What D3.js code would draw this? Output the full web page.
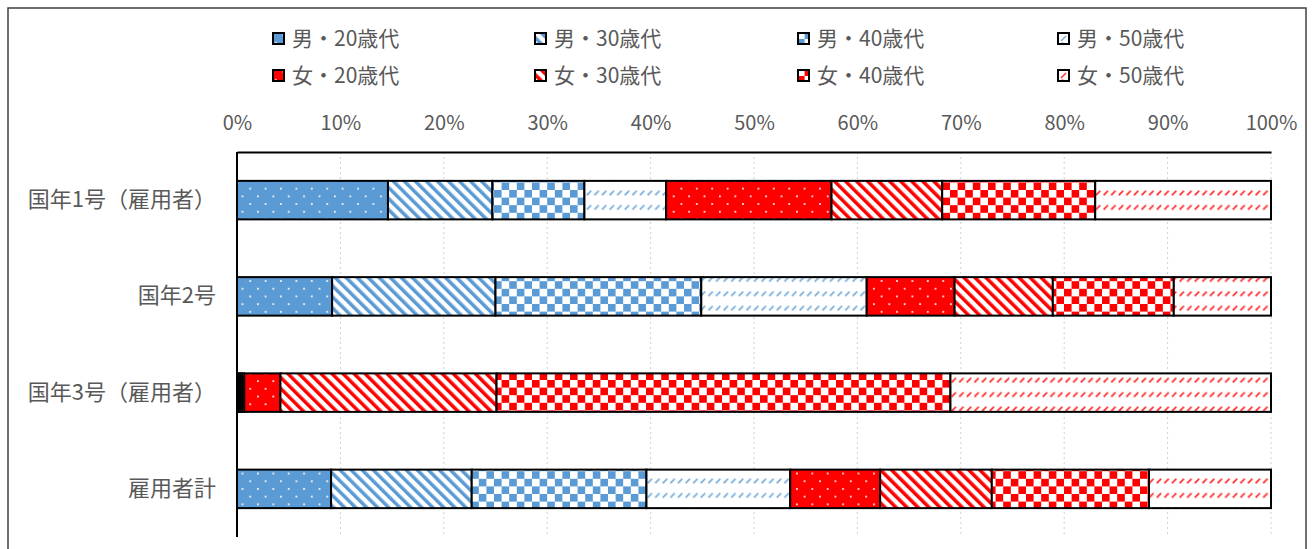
<!DOCTYPE html>
<html>
<head>
<meta charset="utf-8">
<script src="https://cdn.jsdelivr.net/npm/d3@7"></script>
<style>
  html, body { margin: 0; padding: 0; background: #fff; }
  svg { display: block; }
  text { font-family: "Noto Sans CJK JP", "Noto Sans", sans-serif; fill: #595959; }
</style>
</head>
<body>
<svg id="chart" width="1316" height="549"></svg>
<script>
// Categories (top to bottom)
const categories = ["国年1号（雇用者）", "国年2号", "国年3号（雇用者）", "雇用者計"];

// Series names, in stacking order
const seriesNames = ["男・20歳代", "男・30歳代", "男・40歳代", "男・50歳代",
                     "女・20歳代", "女・30歳代", "女・40歳代", "女・50歳代"];

// Shares (%) per category for each series
const male20   = [14.6,  9.2,  0.1,  9.1];
const male30   = [10.1, 15.8,  0.2, 13.6];
const male40   = [ 8.9, 19.9,  0.2, 16.9];
const male50   = [ 7.9, 16.0,  0.2, 13.9];
const female20 = [16.0,  8.5,  3.5,  8.7];
const female30 = [10.7,  9.5, 20.9, 10.8];
const female40 = [14.8, 11.7, 43.9, 15.2];
const female50 = [17.0,  9.4, 31.0, 11.8];

// Axis tick values (%)
const tickValues = [0, 10, 20, 30, 40, 50, 60, 70, 80, 90, 100];

const seriesValues = [male20, male30, male40, male50, female20, female30, female40, female50];

const BLUE = "#5B9BD5";
const RED = "#FF0000";
const seriesColors = [BLUE, BLUE, BLUE, BLUE, RED, RED, RED, RED];
const patternKinds = ["dot", "stripe", "check", "dash", "dot", "stripe", "check", "dash"];

const svg = d3.select("#chart");

// ---- fill patterns ----
const defs = svg.append("defs");

function dotted(id, color) {
  const p = defs.append("pattern").attr("id", id)
    .attr("patternUnits", "userSpaceOnUse").attr("width", 15.4).attr("height", 15.4);
  p.append("rect").attr("width", 15.4).attr("height", 15.4).attr("fill", color);
  p.append("circle").attr("cx", 3.8).attr("cy", 3.8).attr("r", 1).attr("fill", "#fff");
  p.append("circle").attr("cx", 11.5).attr("cy", 11.5).attr("r", 1).attr("fill", "#fff");
}
function striped(id, color) {
  const s = 7.8;
  const p = defs.append("pattern").attr("id", id)
    .attr("patternUnits", "userSpaceOnUse").attr("width", s).attr("height", s)
    .attr("patternTransform", "rotate(-45)");
  p.append("rect").attr("width", s).attr("height", s).attr("fill", "#fff");
  p.append("rect").attr("width", s * 0.45).attr("height", s).attr("fill", color);
}
function checker(id, color) {
  const s = 7.6;
  const p = defs.append("pattern").attr("id", id)
    .attr("patternUnits", "userSpaceOnUse").attr("width", 2 * s).attr("height", 2 * s);
  p.append("rect").attr("width", 2 * s).attr("height", 2 * s).attr("fill", "#fff");
  p.append("rect").attr("width", s).attr("height", s).attr("fill", color);
  p.append("rect").attr("x", s).attr("y", s).attr("width", s).attr("height", s).attr("fill", color);
}
function dashed(id, color) {
  const w = 7.6, h = 14.4;
  const p = defs.append("pattern").attr("id", id)
    .attr("patternUnits", "userSpaceOnUse").attr("width", w).attr("height", h)
    .attr("y", 2);
  p.append("rect").attr("width", w).attr("height", h).attr("fill", "#fff");
  p.append("line").attr("x1", 1.6).attr("y1", 6).attr("x2", 6).attr("y2", 1.6)
    .attr("stroke", color).attr("stroke-width", 1.7).attr("stroke-opacity", 0.8);
}

const makers = { dot: dotted, stripe: striped, check: checker, dash: dashed };
const fills = seriesNames.map((s, i) => {
  const id = "p" + i;
  makers[patternKinds[i]](id, seriesColors[i]);
  return `url(#${id})`;
});

// ---- outer frame ----
svg.append("rect").attr("x", 8).attr("y", 8).attr("width", 1298).attr("height", 560)
  .attr("fill", "none").attr("stroke", "#404040").attr("stroke-width", 1.5);

// ---- scales ----
const plot = { left: 237, right: 1271, top: 152, bottom: 537 };
const x = d3.scaleLinear().domain([0, 100]).range([plot.left, plot.right]);
const y = d3.scaleBand().domain(categories).range([plot.top, plot.bottom])
  .paddingInner(0.6).paddingOuter(0.3);

// ---- gridlines ----
svg.append("g").selectAll("line").data(tickValues.filter(v => v > 0)).join("line")
  .attr("x1", d => x(d)).attr("x2", d => x(d))
  .attr("y1", plot.top).attr("y2", plot.bottom)
  .attr("stroke", "#D0D0D0").attr("stroke-width", 1).attr("stroke-dasharray", "2,3");

// ---- stacked bars ----
const rows = categories.map((c, i) => {
  const r = { category: c };
  seriesNames.forEach((s, k) => { r[s] = seriesValues[k][i]; });
  return r;
});
const stacked = d3.stack().keys(seriesNames)(rows);

svg.append("g").selectAll("g").data(stacked).join("g")
  .attr("fill", (d, i) => fills[i])
  .selectAll("rect").data(d => d).join("rect")
  .attr("x", d => x(d[0]))
  .attr("width", d => x(d[1]) - x(d[0]))
  .attr("y", d => y(d.data.category))
  .attr("height", y.bandwidth())
  .attr("stroke", "#000").attr("stroke-width", 2);

// ---- x axis (top) ----
const xAxis = svg.append("g").attr("transform", `translate(0,${plot.top})`)
  .call(d3.axisTop(x).tickValues(tickValues).tickFormat(d => d + "%").tickSize(0).tickPadding(22));
xAxis.select(".domain").attr("stroke", "#000").attr("stroke-width", 2);
xAxis.selectAll("text").attr("font-size", 20).attr("fill", "#595959")
  .style("font-family", "'Noto Sans CJK JP', sans-serif");

// ---- y axis ----
const yAxis = svg.append("g").attr("transform", `translate(${plot.left},0)`)
  .call(d3.axisLeft(y).tickSize(0).tickPadding(21));
yAxis.select(".domain").attr("stroke", "#000").attr("stroke-width", 2)
  .attr("d", `M0,${plot.top}V${plot.bottom}`);
yAxis.selectAll("text").attr("font-size", 22).attr("fill", "#595959")
  .style("font-family", "'Noto Sans CJK JP', sans-serif");

// ---- legend ----
const legendCols = [272, 534, 797, 1057];
const legendRows = [39, 76];
const legend = svg.append("g").selectAll("g").data(seriesNames).join("g")
  .attr("transform", (d, i) => `translate(${legendCols[i % 4]},${legendRows[Math.floor(i / 4)]})`);
legend.append("rect").attr("x", 1).attr("y", -6).attr("width", 11).attr("height", 11)
  .attr("fill", (d, i) => fills[i]).attr("stroke", "#000").attr("stroke-width", 2);
// dashed swatches are too small to show a tile, so give them one dash
legend.filter((d, i) => patternKinds[i] === "dash").append("line")
  .attr("x1", 4).attr("y1", 2).attr("x2", 9).attr("y2", -3)
  .attr("stroke", (d, i, n) => seriesColors[seriesNames.indexOf(d)])
  .attr("stroke-width", 1.6).attr("stroke-opacity", 0.8);
legend.append("text").attr("x", 20).attr("y", 0).attr("dy", "0.35em")
  .attr("font-size", 21).text(d => d);
</script>
</body>
</html>
